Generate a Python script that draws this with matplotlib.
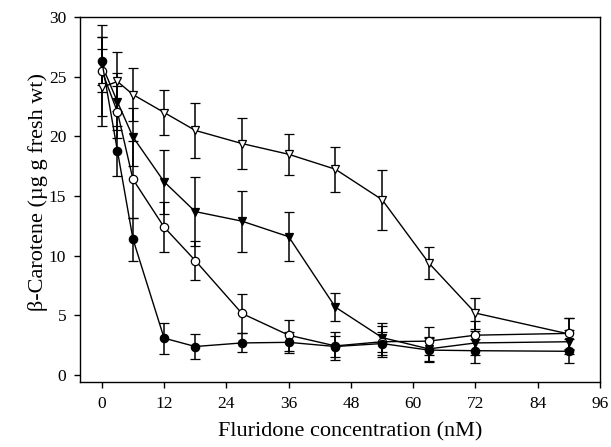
import matplotlib
matplotlib.use("Agg")
import matplotlib.pyplot as plt

conc = [0, 3, 6, 12, 18, 27, 36, 45, 54, 63, 72, 90]

filled_circle = [26.3, 18.8, 11.4, 3.1, 2.4, 2.7, 2.75, 2.4, 2.65, 2.1, 2.05, 2.0]
filled_circle_err = [2.0, 2.1, 1.8, 1.3, 1.05, 0.8, 0.9, 0.9, 1.0, 1.0, 1.0, 1.0]

open_circle = [25.5, 22.05, 16.4, 12.4, 9.6, 5.17, 3.35, 2.45, 2.8, 2.85, 3.35, 3.5]
open_circle_err = [3.8, 2.2, 3.2, 2.1, 1.65, 1.6, 1.3, 1.2, 1.3, 1.2, 1.2, 1.3]

filled_tri = [26.0, 22.9, 19.95, 16.2, 13.7, 12.9, 11.6, 5.7, 3.15, 2.2, 2.7, 2.8]
filled_tri_err = [2.3, 2.4, 2.4, 2.7, 2.9, 2.55, 2.05, 1.2, 1.2, 1.0, 1.0, 1.0]

open_tri = [24.1, 24.6, 23.5, 22.0, 20.5, 19.4, 18.5, 17.25, 14.7, 9.4, 5.2, 3.45]
open_tri_err = [3.2, 2.5, 2.2, 1.9, 2.3, 2.1, 1.7, 1.9, 2.5, 1.35, 1.3, 1.3]

xticks = [0, 12, 24, 36, 48, 60, 72, 84, 96]
yticks = [0, 5, 10, 15, 20, 25, 30]

plt.rcParams['font.family'] = ['Liberation Serif', 'DejaVu Serif']

fig = plt.figure(figsize=(6.11, 4.47), dpi=100)
ax = fig.add_axes([0.131, 0.146, 0.851, 0.816])

series = [
    (open_tri, open_tri_err, 'v', 'white'),
    (filled_tri, filled_tri_err, 'v', 'black'),
    (open_circle, open_circle_err, 'o', 'white'),
    (filled_circle, filled_circle_err, 'o', 'black'),
]
for y, e, m, fc in series:
    ax.errorbar(conc, y, yerr=e, color='black', lw=1.0, elinewidth=1.1,
                capsize=3.5, capthick=1.1, marker=m, markersize=6,
                markerfacecolor=fc, markeredgecolor='black', markeredgewidth=0.9,
                zorder=3)

ax.set_xlim(-4.2, 96)
ax.set_ylim(-0.55, 30)
ax.set_xticks(xticks)
ax.set_yticks(yticks)
ax.tick_params(direction='out', length=4, width=1, labelsize=12.5)
ax.tick_params(axis='y', pad=6)
ax.tick_params(axis='x', pad=6)
for s in ax.spines.values():
    s.set_linewidth(1.0)

ax.set_xlabel('Fluridone concentration (nM)', fontsize=16)
ax.set_ylabel('β-Carotene (µg g fresh wt)', fontsize=16)
ax.xaxis.set_label_coords(0.52, -0.11)
ax.yaxis.set_label_coords(-0.062, 0.52)

fig.savefig('out.png', dpi=100)
